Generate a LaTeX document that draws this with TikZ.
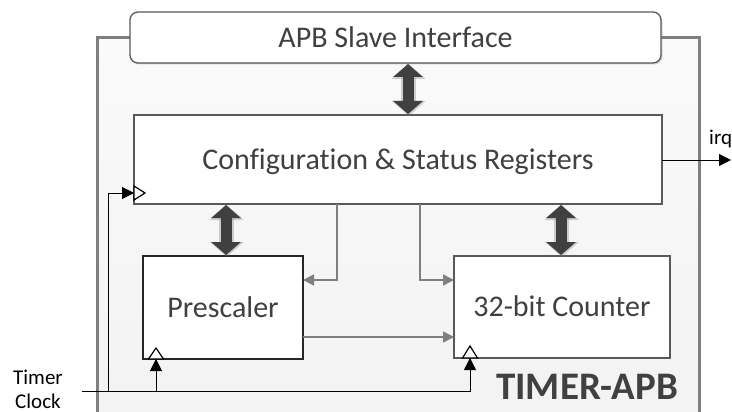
\documentclass[tikz,border=0pt]{standalone}
\usepackage{fontspec}
\setmainfont[Ligatures=NoCommon]{Carlito}
\usetikzlibrary{arrows.meta,shadows,calc}
\definecolor{txt}{HTML}{404040}
\definecolor{bord}{HTML}{595959}
\definecolor{outerc}{HTML}{7F7F7F}
\definecolor{glin}{HTML}{7F7F7F}
\tikzset{
  block/.style={draw=bord, line width=1.3pt, fill=white, text=txt,
    font=\fontsize{30}{34}\selectfont, text height=19.2pt, text depth=0pt,
    inner sep=0pt, outer sep=0pt},
  gline/.style={draw=glin, line width=1.6pt, -{Triangle[length=11pt,width=11pt]}},
  cline/.style={draw=black, line width=1pt, -{Triangle[length=12pt,width=12pt]}},
  plainc/.style={draw=black, line width=1pt},
  dbl/.style={draw=txt, line width=11pt, {Triangle[length=13pt,width=29pt]}-{Triangle[length=13pt,width=29pt]}, shorten <=1pt, shorten >=1pt},
  dblglow/.style={draw=gray, opacity=0.35, line width=15pt, {Triangle[length=15pt,width=33pt]}-{Triangle[length=15pt,width=33pt]}},
  clk/.style={draw=black, line width=1.2pt, fill=white},
  lbl/.style={font=\fontsize{21}{24}\selectfont, text=black, inner sep=0pt}
}
\begin{document}
\begin{tikzpicture}[x=1pt,y=-1pt]
\useasboundingbox (0,0) rectangle (732,412);
% outer box
\path[top color=gray!4, bottom color=gray!10] (97,38) rectangle (699,430);
\draw[outerc, line width=3pt] (97,430) -- (97,38) -- (699,38) -- (699,430);
% blocks
\node[block, rounded corners=8pt, minimum width=531pt, minimum height=51pt,
  drop shadow={shadow xshift=1.5pt, shadow yshift=-1.5pt, opacity=0.3}] (apb) at (395.5,37.5) {APB Slave Interface};
\node[block, minimum width=528pt, minimum height=89pt,
  drop shadow={shadow xshift=1pt, shadow yshift=-1pt, opacity=0.2}] (cfg) at (398,159.5) {Configuration \& Status Registers};
\node[block, draw=black!85, line width=1.6pt, minimum width=160pt, minimum height=103pt] (pre) at (223,307.5) {Prescaler};
\node[block, minimum width=216pt, minimum height=102pt] (cnt) at (562,307) {32-bit Counter};
% coordinates
\coordinate (d1) at (408,0);
\coordinate (d2) at (226,0);
\coordinate (d3) at (561,0);
\coordinate (g1) at (337,280);
\coordinate (g2) at (420,280);
\coordinate (g3) at (0,337);
\coordinate (tclk) at (82,391);
\coordinate (ck0) at (108,193);
\coordinate (ck1) at (156,0);
\coordinate (ck2) at (470,0);
\coordinate (irqend) at (731,160);
% double arrows
\foreach \a/\b/\c in {apb/cfg/d1, cfg/pre/d2, cfg/cnt/d3}{
  \draw[dblglow] ($(\a.south -| \c)+(0.8,1)$) -- ($(\b.north -| \c)+(0.8,1)$);
  \draw[dbl] (\a.south -| \c) -- (\b.north -| \c);
}
% gray connectors
\draw[gline] (cfg.south -| g1) |- (pre.east |- g1);
\draw[gline] (cfg.south -| g2) |- (cnt.west |- g2);
\draw[gline] (pre.east |- g3) -- (cnt.west |- g3);
% irq
\draw[cline] (cfg.east |- irqend) -- (irqend);
\node[lbl, anchor=base west] (irq) at (709,145) {irq};
% clock
\draw[plainc] (tclk) -- (ck1 |- tclk);
\draw[cline] (tclk) -| (cnt.south -| ck2);
\draw[cline] (ck1 |- tclk) -- (pre.south -| ck1);
\draw[cline] (ck0 |- tclk) |- (cfg.west |- ck0);
% clock triangles
\draw[clk] ($(cfg.west |- ck0)+(0,-7)$) -- ++(11,7) -- ++(-11,7) -- cycle;
\draw[clk] ($(pre.south -| ck1)+(-7.5,0)$) -- ++(7.5,-11) -- ++(7.5,11) -- cycle;
\draw[clk] ($(cnt.south -| ck2)+(-7.5,0)$) -- ++(7.5,-12) -- ++(7.5,12) -- cycle;
% labels
\node[lbl, anchor=base] (timer) at (38,384) {Timer};
\node[lbl, anchor=base] (clock) at (38,408) {Clock};
\node[anchor=base west, inner sep=0pt, text=txt, font=\fontsize{39}{44}\selectfont\bfseries] (title) at (496,399) {TIMER-APB};
\end{tikzpicture}
\end{document}
